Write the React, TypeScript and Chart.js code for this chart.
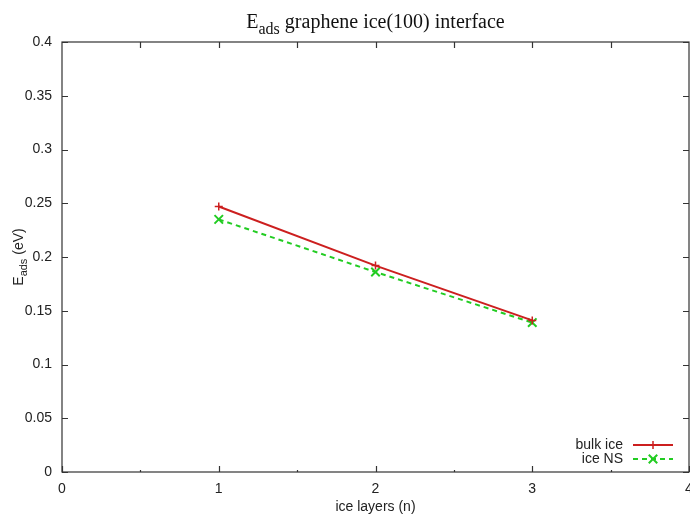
import React, { useEffect, useRef } from "react";
import { Chart, registerables } from "chart.js";

Chart.register(...registerables);

const xValues = [1, 2, 3];
const bulkIce = [0.247, 0.192, 0.141];
const iceNS = [0.235, 0.186, 0.139];
const seriesLabels = ["bulk ice", "ice NS"];
const xTickValues = [0, 1, 2, 3, 4];
const xTopTickValues = [0.5, 1, 1.5, 2, 2.5, 3, 3.5];
const yTickValues = [0, 0.05, 0.1, 0.15, 0.2, 0.25, 0.3, 0.35, 0.4];

const SANS = "'Liberation Sans', Arial, Helvetica, sans-serif";
const SERIF = "'Liberation Serif', 'Times New Roman', serif";
const RED = "#cc1f1f";
const GREEN = "#22cc22";
const FRAME = "#333";

const overlay = {
  id: "gnuplotOverlay",
  afterDraw(chart: any) {
    const { ctx, chartArea: a, scales } = chart;
    const xs = scales.x;
    const ys = scales.y;
    ctx.save();
    // frame
    ctx.strokeStyle = FRAME;
    ctx.lineWidth = 1.2;
    ctx.strokeRect(a.left, a.top, a.right - a.left, a.bottom - a.top);
    ctx.beginPath();
    // y ticks both sides
    yTickValues.forEach((v) => {
      const py = Math.round(ys.getPixelForValue(v)) + 0.5;
      ctx.moveTo(a.left, py);
      ctx.lineTo(a.left + 6, py);
      ctx.moveTo(a.right, py);
      ctx.lineTo(a.right - 6, py);
    });
    // bottom ticks
    xTickValues.forEach((v) => {
      const px = Math.round(xs.getPixelForValue(v)) + 0.5;
      ctx.moveTo(px, a.bottom);
      ctx.lineTo(px, a.bottom - 6);
    });
    [0.5, 1.5, 2.5, 3.5].forEach((v) => {
      const px = Math.round(xs.getPixelForValue(v)) + 0.5;
      ctx.moveTo(px, a.bottom);
      ctx.lineTo(px, a.bottom - 2);
    });
    // top ticks
    xTopTickValues.forEach((v) => {
      const px = Math.round(xs.getPixelForValue(v)) + 0.5;
      ctx.moveTo(px, a.top);
      ctx.lineTo(px, a.top + 6);
    });
    ctx.stroke();

    // title
    const cx = (a.left + a.right) / 2;
    const bigF = `20px ${SERIF}`;
    const subF = `16px ${SERIF}`;
    ctx.fillStyle = "#111";
    ctx.textBaseline = "alphabetic";
    ctx.textAlign = "left";
    ctx.font = bigF;
    const wE = ctx.measureText("E").width;
    const rest = " graphene ice(100) interface";
    const wR = ctx.measureText(rest).width;
    ctx.font = subF;
    const wS = ctx.measureText("ads").width;
    let tx = cx - (wE + wS + wR) / 2;
    const ty = 28;
    ctx.font = bigF;
    ctx.fillText("E", tx, ty);
    tx += wE;
    ctx.font = subF;
    ctx.fillText("ads", tx, ty + 6);
    tx += wS;
    ctx.font = bigF;
    ctx.fillText(rest, tx, ty);

    // x title
    ctx.font = `14px ${SANS}`;
    ctx.fillStyle = "#222";
    ctx.textAlign = "center";
    ctx.textBaseline = "middle";
    ctx.fillText("ice layers (n)", cx, 507);

    // y title
    ctx.save();
    const cy = (a.top + a.bottom) / 2;
    ctx.translate(23, cy);
    ctx.rotate(-Math.PI / 2);
    ctx.textAlign = "left";
    ctx.textBaseline = "alphabetic";
    const mF = `14px ${SANS}`;
    const sF = `11px ${SANS}`;
    ctx.font = mF;
    const yE = ctx.measureText("E").width;
    const yR = ctx.measureText(" (eV)").width;
    ctx.font = sF;
    const yS = ctx.measureText("ads").width;
    let yx = -(yE + yS + yR) / 2;
    ctx.font = mF;
    ctx.fillText("E", yx, 0);
    yx += yE;
    ctx.font = sF;
    ctx.fillText("ads", yx, 4);
    yx += yS;
    ctx.font = mF;
    ctx.fillText(" (eV)", yx, 0);
    ctx.restore();

    // legend
    ctx.font = `14px ${SANS}`;
    ctx.textAlign = "right";
    ctx.textBaseline = "middle";
    const rows = [445, 459];
    chart.data.datasets.forEach((ds: any, i: number) => {
      const y = rows[i];
      ctx.fillStyle = "#222";
      ctx.fillText(ds.label, 623, y);
      ctx.save();
      ctx.strokeStyle = ds.borderColor;
      ctx.lineWidth = ds.borderWidth;
      ctx.setLineDash(ds.borderDash || []);
      ctx.beginPath();
      ctx.moveTo(633, y);
      ctx.lineTo(673, y);
      ctx.stroke();
      ctx.setLineDash([]);
      ctx.restore();
      const r = ds.pointRadius;
      ctx.save();
      ctx.strokeStyle = ds.borderColor;
      ctx.lineWidth = ds.pointBorderWidth;
      ctx.beginPath();
      if (ds.pointStyle === "cross") {
        ctx.moveTo(653 - r, y);
        ctx.lineTo(653 + r, y);
        ctx.moveTo(653, y - r);
        ctx.lineTo(653, y + r);
      } else {
        const d = r * 0.707;
        ctx.moveTo(653 - d, y - d);
        ctx.lineTo(653 + d, y + d);
        ctx.moveTo(653 - d, y + d);
        ctx.lineTo(653 + d, y - d);
      }
      ctx.stroke();
      ctx.restore();
    });
    ctx.restore();
  },
};

export default function App() {
  const ref = useRef<HTMLCanvasElement | null>(null);
  useEffect(() => {
    document.body.style.margin = "0";
    const canvas = ref.current;
    if (!canvas) return;
    const chart = new Chart(canvas, {
      type: "line",
      data: {
        datasets: [
          {
            label: seriesLabels[0],
            data: xValues.map((x, i) => ({ x, y: bulkIce[i] })),
            borderColor: RED,
            backgroundColor: RED,
            borderWidth: 2,
            pointStyle: "cross",
            pointRadius: 4,
            pointBorderWidth: 1.5,
            fill: false,
            tension: 0,
          },
          {
            label: seriesLabels[1],
            data: xValues.map((x, i) => ({ x, y: iceNS[i] })),
            borderColor: GREEN,
            backgroundColor: GREEN,
            borderWidth: 2,
            borderDash: [5, 4],
            pointStyle: "crossRot",
            pointRadius: 6,
            pointBorderWidth: 2,
            fill: false,
            tension: 0,
          },
        ],
      } as any,
      options: {
        responsive: false,
        animation: false,
        events: [],
        layout: { autoPadding: false, padding: { top: 42, right: 1, left: 0, bottom: 0 } },
        plugins: {
          legend: { display: false },
          title: { display: false },
          tooltip: { enabled: false },
        },
        scales: {
          x: {
            type: "linear",
            min: 0,
            max: 4,
            afterBuildTicks: (s: any) => {
              s.ticks = xTickValues.map((v) => ({ value: v }));
            },
            grid: { display: false, drawTicks: false },
            border: { display: false },
            ticks: {
              padding: 9,
              color: "#222",
              font: { family: SANS, size: 14 },
              maxRotation: 0,
              autoSkip: false,
              callback: (v: any) => String(v),
            },
            afterFit: (s: any) => {
              s.height = 44;
              s.paddingLeft = 0;
              s.paddingRight = 0;
            },
          },
          y: {
            type: "linear",
            min: 0,
            max: 0.4,
            afterBuildTicks: (s: any) => {
              s.ticks = yTickValues.map((v) => ({ value: v }));
            },
            grid: { display: false, drawTicks: false },
            border: { display: false },
            ticks: {
              padding: 10,
              color: "#222",
              font: { family: SANS, size: 14 },
              autoSkip: false,
              callback: (v: any) => String(+Number(v).toFixed(2)),
            },
            afterFit: (s: any) => {
              s.width = 62;
              s.paddingTop = 0;
              s.paddingBottom = 0;
            },
          },
        },
      } as any,
      plugins: [overlay],
    });
    return () => chart.destroy();
  }, []);
  return (
    <div style={{ width: 690, height: 516, background: "#fff" }}>
      <canvas ref={ref} width={690} height={516} style={{ display: "block" }} />
    </div>
  );
}
